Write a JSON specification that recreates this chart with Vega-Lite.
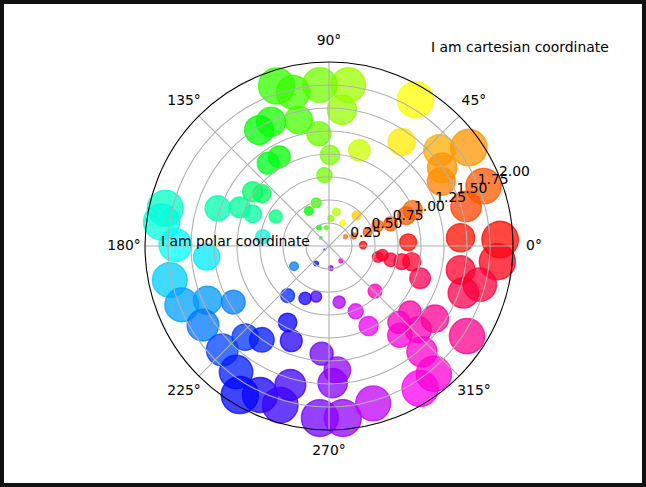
{
  "$schema": "https://vega.github.io/schema/vega-lite/v6.json",
  "width": 646,
  "height": 487,
  "autosize": {"type": "none"},
  "padding": 0,
  "background": "white",
  "config": {"view": {"stroke": "#111111", "strokeWidth": 8}, "font": "DejaVu Sans"},
  "datasets": {
    "pts": [
      {"x":1.86,"y":0.07},{"x":1.83,"y":-0.17},{"x":1.43,"y":0.09},{"x":0.86,"y":0.04},{"x":1.49,"y":0.43},{"x":1.68,"y":0.65},{"x":1.22,"y":0.70},{"x":1.20,"y":1.04},{"x":1.52,"y":1.07},{"x":1.23,"y":0.85},{"x":0.91,"y":0.39},{"x":0.84,"y":0.33},{"x":0.67,"y":0.24},{"x":0.53,"y":0.22},{"x":0.42,"y":0.15},{"x":0.27,"y":0.11},{"x":0.18,"y":0.10},{"x":0.30,"y":0.33},{"x":0.15,"y":0.25},{"x":0.94,"y":1.59},{"x":0.79,"y":1.13},{"x":0.33,"y":1.04},{"x":0.21,"y":1.75},{"x":0.14,"y":1.48},{"x":0.08,"y":0.37},{"x":0.02,"y":0.30},{"x":0.01,"y":0.99},{"x":-0.05,"y":0.77},{"x":-0.11,"y":1.22},{"x":-0.10,"y":1.75},
      {"x":-0.33,"y":1.37},{"x":-0.39,"y":1.67},{"x":-0.57,"y":1.74},{"x":-0.63,"y":1.35},{"x":-0.76,"y":1.26},{"x":-0.54,"y":0.97},{"x":-0.66,"y":0.90},{"x":-0.14,"y":0.47},{"x":-0.22,"y":0.38},{"x":-0.11,"y":0.20},{"x":-0.03,"y":0.20},{"x":-0.83,"y":0.59},{"x":-0.73,"y":0.57},{"x":-0.97,"y":0.42},{"x":-0.83,"y":0.35},{"x":-0.58,"y":0.32},{"x":-1.21,"y":0.41},{"x":-1.78,"y":0.41},{"x":-1.82,"y":0.26},{"x":-1.67,"y":0.01},{"x":-1.33,"y":-0.12},{"x":-0.72,"y":0.10},{"x":-0.09,"y":0.09},{"x":-0.05,"y":-0.04},
      {"x":-1.73,"y":-0.37},{"x":-1.60,"y":-0.64},{"x":-1.32,"y":-0.59},{"x":-1.04,"y":-0.61},{"x":-1.37,"y":-0.86},{"x":-0.91,"y":-0.99},{"x":-0.73,"y":-1.02},{"x":-1.16,"y":-1.13},{"x":-1.01,"y":-1.37},{"x":-0.45,"y":-0.83},{"x":-0.41,"y":-1.03},{"x":-0.45,"y":-0.54},{"x":-0.26,"y":-0.57},{"x":-0.14,"y":-0.55},{"x":-0.38,"y":-0.22},{"x":-0.14,"y":-0.19},{"x":-0.75,"y":-1.62},{"x":-0.53,"y":-1.73},{"x":-0.42,"y":-1.51},{"x":-0.97,"y":-1.62},{"x":-0.08,"y":-1.17},{"x":0.04,"y":-1.49},{"x":0.09,"y":-1.35},{"x":-0.10,"y":-1.87},{"x":0.15,"y":-1.87},{"x":0.02,"y":-0.24},{"x":0.11,"y":-0.61},
      {"x":0.48,"y":-1.71},{"x":0.29,"y":-0.71},{"x":0.43,"y":-0.87},{"x":0.50,"y":-0.49},{"x":0.13,"y":-0.16},{"x":0.77,"y":-0.97},{"x":0.88,"y":-0.72},{"x":0.97,"y":-0.91},{"x":0.99,"y":-1.55},{"x":1.14,"y":-1.39},{"x":1.01,"y":-1.15},{"x":1.46,"y":-0.51},{"x":1.64,"y":-0.42},{"x":1.43,"y":-0.26},{"x":0.99,"y":-0.35},{"x":0.53,"y":-0.12},{"x":0.67,"y":-0.15},{"x":0.79,"y":-0.17},{"x":0.90,"y":-0.17},{"x":0.37,"y":0.01},{"x":0.58,"y":-0.10},{"x":1.50,"y":-0.98},{"x":1.15,"y":-0.79},{"x":0.76,"y":-0.83}
    ],
    "rings": [{"r":0.25},{"r":0.5},{"r":0.75},{"r":1.0},{"r":1.25},{"r":1.5},{"r":1.75}],
    "outer": [{"r":2.0}],
    "spokes": [{"a":0},{"a":45},{"a":90},{"a":135},{"a":180},{"a":225},{"a":270},{"a":315}],
    "rlabels": [{"r":0.25,"label":"0.25"},{"r":0.5,"label":"0.50"},{"r":0.75,"label":"0.75"},{"r":1.0,"label":"1.00"},{"r":1.25,"label":"1.25"},{"r":1.5,"label":"1.50"},{"r":1.75,"label":"1.75"},{"r":2.0,"label":"2.00"}],
    "alabels": [{"a":0,"label":"0°"},{"a":45,"label":"45°"},{"a":90,"label":"90°"},{"a":135,"label":"135°"},{"a":180,"label":"180°"},{"a":225,"label":"225°"},{"a":270,"label":"270°"},{"a":315,"label":"315°"}],
    "notes": [{"x":-1.826,"y":0.0,"label":"I am polar coordinate"},{"x":1.109,"y":2.109,"label":"I am cartesian coordinate"}]
  },
  "layer": [
    {
      "data": {"name": "pts"},
      "transform": [
        {"calculate": "sqrt(datum.x*datum.x+datum.y*datum.y)", "as": "r"},
        {"calculate": "(atan2(datum.y,datum.x)+2*PI)%(2*PI)", "as": "theta"}
      ],
      "mark": {"type": "point", "shape": "circle", "filled": true, "fillOpacity": 0.75, "strokeOpacity": 0.75, "strokeWidth": 1.4},
      "encoding": {
        "x": {"field": "x", "type": "quantitative", "scale": {"domain": [-3.5761, 3.4457], "nice": false, "zero": false}, "axis": null},
        "y": {"field": "y", "type": "quantitative", "scale": {"domain": [-2.6196, 2.6739], "nice": false, "zero": false}, "axis": null},
        "size": {"field": "r", "type": "quantitative", "scale": {"type": "pow", "exponent": 2, "domain": [0, 2], "range": [0, 1543]}, "legend": null},
        "color": {"field": "theta", "type": "quantitative", "scale": {"domain": [0, 1.0472, 2.0944, 3.1416, 4.1888, 5.236, 6.2832], "range": ["#ff0000", "#ffff00", "#00ff00", "#00ffff", "#0000ff", "#ff00ff", "#ff0000"], "interpolate": "rgb"}, "legend": null},
        "stroke": {"field": "theta", "type": "quantitative", "scale": {"domain": [0, 1.0472, 2.0944, 3.1416, 4.1888, 5.236, 6.2832], "range": ["#ff0000", "#ffff00", "#00ff00", "#00ffff", "#0000ff", "#ff00ff", "#ff0000"], "interpolate": "rgb"}, "legend": null}
      }
    },
    {
      "data": {"name": "rings"},
      "transform": [{"calculate": "0", "as": "cx"}],
      "mark": {"type": "point", "shape": "circle", "filled": false, "color": "#b0b0b0", "opacity": 1, "strokeWidth": 1.1},
      "encoding": {
        "x": {"field": "cx", "type": "quantitative", "scale": {"domain": [-3.5761, 3.4457], "nice": false, "zero": false}, "axis": null},
        "y": {"field": "cx", "type": "quantitative", "scale": {"domain": [-2.6196, 2.6739], "nice": false, "zero": false}, "axis": null},
        "size": {"field": "r", "type": "quantitative", "scale": {"type": "pow", "exponent": 2, "domain": [0, 2], "range": [0, 135424]}, "legend": null}
      }
    },
    {
      "data": {"name": "spokes"},
      "transform": [
        {"calculate": "0", "as": "cx"},
        {"calculate": "2*cos(datum.a*PI/180)", "as": "ex"},
        {"calculate": "2*sin(datum.a*PI/180)", "as": "ey"}
      ],
      "mark": {"type": "rule", "color": "#b0b0b0", "strokeWidth": 1.1},
      "encoding": {
        "x": {"field": "cx", "type": "quantitative", "scale": {"domain": [-3.5761, 3.4457], "nice": false, "zero": false}, "axis": null},
        "y": {"field": "cx", "type": "quantitative", "scale": {"domain": [-2.6196, 2.6739], "nice": false, "zero": false}, "axis": null},
        "x2": {"field": "ex"},
        "y2": {"field": "ey"}
      }
    },
    {
      "data": {"name": "outer"},
      "transform": [{"calculate": "0", "as": "cx"}],
      "mark": {"type": "point", "shape": "circle", "filled": false, "color": "#000000", "opacity": 1, "strokeWidth": 1.1},
      "encoding": {
        "x": {"field": "cx", "type": "quantitative", "scale": {"domain": [-3.5761, 3.4457], "nice": false, "zero": false}, "axis": null},
        "y": {"field": "cx", "type": "quantitative", "scale": {"domain": [-2.6196, 2.6739], "nice": false, "zero": false}, "axis": null},
        "size": {"field": "r", "type": "quantitative", "scale": {"type": "pow", "exponent": 2, "domain": [0, 2], "range": [0, 135424]}, "legend": null}
      }
    },
    {
      "data": {"name": "rlabels"},
      "transform": [
        {"calculate": "datum.r*cos(22.5*PI/180)", "as": "lx"},
        {"calculate": "datum.r*sin(22.5*PI/180)", "as": "ly"}
      ],
      "mark": {"type": "text", "align": "left", "baseline": "alphabetic", "fontSize": 13.9, "color": "#000000"},
      "encoding": {
        "x": {"field": "lx", "type": "quantitative", "scale": {"domain": [-3.5761, 3.4457], "nice": false, "zero": false}, "axis": null},
        "y": {"field": "ly", "type": "quantitative", "scale": {"domain": [-2.6196, 2.6739], "nice": false, "zero": false}, "axis": null},
        "text": {"field": "label"}
      }
    },
    {
      "data": {"name": "alabels"},
      "transform": [
        {"calculate": "2.228*cos(datum.a*PI/180)", "as": "lx"},
        {"calculate": "2.228*sin(datum.a*PI/180)", "as": "ly"}
      ],
      "mark": {"type": "text", "align": "center", "baseline": "middle", "fontSize": 13.9, "color": "#000000"},
      "encoding": {
        "x": {"field": "lx", "type": "quantitative", "scale": {"domain": [-3.5761, 3.4457], "nice": false, "zero": false}, "axis": null},
        "y": {"field": "ly", "type": "quantitative", "scale": {"domain": [-2.6196, 2.6739], "nice": false, "zero": false}, "axis": null},
        "text": {"field": "label"}
      }
    },
    {
      "data": {"name": "notes"},
      "mark": {"type": "text", "align": "left", "baseline": "alphabetic", "fontSize": 13.9, "color": "#000000"},
      "encoding": {
        "x": {"field": "x", "type": "quantitative", "scale": {"domain": [-3.5761, 3.4457], "nice": false, "zero": false}, "axis": null},
        "y": {"field": "y", "type": "quantitative", "scale": {"domain": [-2.6196, 2.6739], "nice": false, "zero": false}, "axis": null},
        "text": {"field": "label"}
      }
    }
  ],
  "resolve": {"scale": {"size": "independent"}}
}
